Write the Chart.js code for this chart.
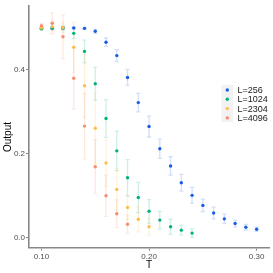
<!DOCTYPE html>
<html>
<head>
<meta charset="utf-8">
<script src="https://cdn.jsdelivr.net/npm/chart.js@4.4.0/dist/chart.umd.min.js"></script>
<style>
  html, body { margin: 0; padding: 0; background: #fff; }
  #wrap { width: 273px; height: 273px; }
</style>
</head>
<body>
<div id="wrap"><canvas id="chart"></canvas></div>
<script>
const temps = [0.10, 0.11, 0.12, 0.13, 0.14, 0.15, 0.16, 0.17, 0.18, 0.19, 0.20,
               0.21, 0.22, 0.23, 0.24, 0.25, 0.26, 0.27, 0.28, 0.29, 0.30];

const seriesLabels = ["L=256", "L=1024", "L=2304", "L=4096"];
const seriesColors = ["#1a5ee6", "#00b478", "#fdbf4c", "#f98b6f"];

const mean256 = [0.499, 0.500, 0.500, 0.500, 0.499, 0.492, 0.466, 0.434, 0.382, 0.322, 0.265,
                 0.212, 0.171, 0.131, 0.101, 0.077, 0.059, 0.045, 0.034, 0.025, 0.020];
const err256 = [0.002, 0.002, 0.002, 0.002, 0.003, 0.005, 0.010, 0.014, 0.019, 0.022, 0.025,
                0.023, 0.022, 0.020, 0.019, 0.015, 0.014, 0.011, 0.008, 0.007, 0.005];

const mean1024 = [0.498, 0.499, 0.500, 0.487, 0.444, 0.367, 0.284, 0.207, 0.143, 0.096, 0.063,
                  0.042, 0.026, 0.018, 0.011];
const err1024 = [0.003, 0.004, 0.005, 0.012, 0.027, 0.039, 0.045, 0.047, 0.043, 0.036, 0.028,
                 0.021, 0.018, 0.012, 0.010];

const mean2304 = [0.500, 0.503, 0.501, 0.454, 0.362, 0.261, 0.178, 0.115, 0.072, 0.044, 0.026];
const err2304 = [0.004, 0.010, 0.012, 0.060, 0.075, 0.085, 0.055, 0.050, 0.028, 0.030, 0.020];

const mean4096 = [0.505, 0.511, 0.479, 0.380, 0.266, 0.169, 0.100, 0.057, 0.032];
const err4096 = [0.006, 0.025, 0.052, 0.073, 0.078, 0.064, 0.049, 0.033, 0.022];

const xTicks = [0.10, 0.20, 0.30];
const yTicks = [0.0, 0.2, 0.4];

const means = [mean256, mean1024, mean2304, mean4096];
const errors = [err256, err1024, err2304, err4096];

const fontFamily = "'Liberation Sans', Arial, sans-serif";
Chart.defaults.font.family = fontFamily;

function alpha(hex, a) {
    const n = parseInt(hex.slice(1), 16);
    return `rgba(${(n >> 16) & 255}, ${(n >> 8) & 255}, ${n & 255}, ${a})`;
}

// vertical error bars with caps, under the points
const errorBars = {
    id: "errorBars",
    beforeDatasetsDraw(chart) {
        const { ctx, scales: { x, y } } = chart;
        ctx.save();
        ctx.lineWidth = 1.3;
        means.forEach((m, d) => {
            ctx.strokeStyle = alpha(seriesColors[d], 0.2);
            m.forEach((v, i) => {
                const px = x.getPixelForValue(temps[i]);
                const top = y.getPixelForValue(v + errors[d][i]);
                const bot = y.getPixelForValue(v - errors[d][i]);
                ctx.beginPath();
                ctx.moveTo(px, top);
                ctx.lineTo(px, bot);
                ctx.moveTo(px - 2, top);
                ctx.lineTo(px + 2, top);
                ctx.moveTo(px - 2, bot);
                ctx.lineTo(px + 2, bot);
                ctx.stroke();
            });
        });
        ctx.restore();
    }
};

// ggplot-like legend inside the panel and rotated y title
const decorations = {
    id: "decorations",
    afterDraw(chart) {
        const ctx = chart.ctx;
        ctx.save();
        ctx.fillStyle = "#f2f2f2";
        ctx.fillRect(221.5, 85, 11.5, 37);
        ctx.font = `9px ${fontFamily}`;
        ctx.textBaseline = "middle";
        ctx.textAlign = "left";
        seriesLabels.forEach((label, i) => {
            const yk = 90 + i * 9.3;
            ctx.fillStyle = seriesColors[i];
            ctx.beginPath();
            ctx.arc(227.3, yk, 1.7, 0, Math.PI * 2);
            ctx.fill();
            ctx.fillStyle = "#1a1a1a";
            ctx.fillText(label, 237.5, yk + 0.5);
        });

        ctx.translate(8, 137);
        ctx.rotate(-Math.PI / 2);
        ctx.textAlign = "center";
        ctx.fillStyle = "#000";
        ctx.font = `10px ${fontFamily}`;
        ctx.fillText("Output", 0, 0);
        ctx.restore();
    }
};

const datasets = means.map((m, d) => ({
    label: seriesLabels[d],
    data: m.map((v, i) => ({ x: temps[i], y: v })),
    backgroundColor: seriesColors[d],
    borderColor: seriesColors[d],
    borderWidth: 0,
    pointRadius: 1.7,
    order: 4 - d
}));

new Chart(document.getElementById("chart"), {
    type: "scatter",
    data: { datasets },
    options: {
        responsive: true,
        maintainAspectRatio: false,
        animation: false,
        layout: { padding: { top: 5, right: 3, left: 0, bottom: 0 } },
        plugins: {
            legend: { display: false },
            tooltip: { enabled: false }
        },
        scales: {
            x: {
                type: "linear",
                min: 0.0884,
                max: 0.3115,
                afterBuildTicks: (s) => { s.ticks = xTicks.map((v) => ({ value: v })); },
                afterFit: (s) => { s.height = 25.3; },
                ticks: {
                    callback: (v) => v.toFixed(2),
                    font: { size: 8 },
                    color: "#4d4d4d",
                    padding: 1,
                    maxRotation: 0,
                    autoSkip: false
                },
                grid: { drawOnChartArea: false, drawTicks: true, tickLength: 3, color: "#888" },
                border: { color: "#888", width: 1.6 },
                title: { display: true, text: "T", color: "#000", font: { size: 10 }, padding: { top: 0, bottom: 2 } }
            },
            y: {
                min: -0.0238,
                max: 0.5527,
                afterBuildTicks: (s) => { s.ticks = yTicks.map((v) => ({ value: v })); },
                afterFit: (s) => { s.width = 29; },
                ticks: {
                    callback: (v) => v.toFixed(1),
                    font: { size: 8 },
                    color: "#4d4d4d",
                    padding: 1
                },
                grid: { drawOnChartArea: false, drawTicks: true, tickLength: 3, color: "#888" },
                border: { color: "#888", width: 1.6 }
            }
        }
    },
    plugins: [errorBars, decorations]
});
</script>
</body>
</html>
